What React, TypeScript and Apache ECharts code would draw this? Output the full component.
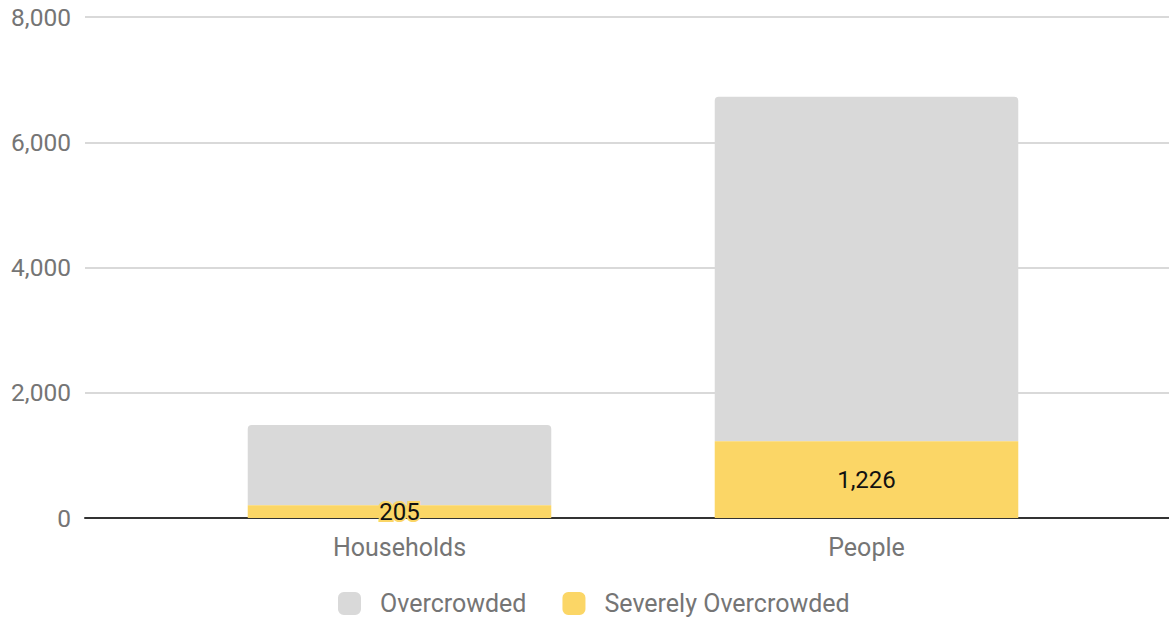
import React, { useEffect, useRef } from "react";
import * as echarts from "echarts";

const categories = ["Households", "People"];
const severelyOvercrowded = [205, 1226];
const overcrowded = [1280, 5500];
const yTicks = { min: 0, max: 8000, interval: 2000 };

export default function App() {
  const ref = useRef<HTMLDivElement>(null);
  useEffect(() => {
    const chart = echarts.init(ref.current!, null, { renderer: "svg" });
    const font = "Roboto";
    chart.setOption({
      animation: false,
      textStyle: { fontFamily: font },
      legend: {
        data: ["Overcrowded", "Severely Overcrowded"],
        top: 589,
        left: 333,
        padding: [2, 5, 2, 5],
        itemWidth: 23,
        itemHeight: 23,
        itemGap: 36,
        icon: "roundRect",
        textStyle: { fontSize: 25, color: "#757575", fontFamily: font, padding: [0, 0, 0, 14] },
      },
      grid: [
        { left: 85, right: 0, top: 17, bottom: 101 },
        { left: 166, right: 69, top: 17, bottom: 101 },
      ],
      xAxis: [
        {
          type: "category",
          gridIndex: 0,
          data: ["", ""],
          axisLine: { show: true, lineStyle: { color: "#333333", width: 2 } },
          axisTick: { show: false },
          axisLabel: { show: false },
        },
        {
          type: "category",
          gridIndex: 1,
          data: categories,
          axisLine: { show: false },
          axisTick: { show: false },
          axisLabel: { fontSize: 25, color: "#757575", margin: 17, fontFamily: font },
        },
      ],
      yAxis: [
        {
          type: "value",
          gridIndex: 0,
          ...yTicks,
          axisLine: { show: false },
          axisTick: { show: false },
          splitLine: { lineStyle: { color: "#cccccc", width: 1.5 } },
          axisLabel: {
            fontSize: 24.5,
            color: "#757575",
            margin: 14,
            fontFamily: font,
            formatter: (v: number) => v.toLocaleString("en-US"),
          },
        },
        {
          type: "value",
          gridIndex: 1,
          ...yTicks,
          show: false,
          splitLine: { show: false },
        },
      ],
      series: [
        {
          name: "Severely Overcrowded",
          type: "bar",
          xAxisIndex: 1,
          yAxisIndex: 1,
          stack: "total",
          barWidth: "65%",
          data: severelyOvercrowded,
          itemStyle: { color: "#fbd666" },
          label: {
            show: true,
            position: "inside",
            fontSize: 24,
            color: "#111111",
            fontFamily: font,
            textBorderColor: "#fbd666",
            textBorderWidth: 4,
            formatter: (p: any) => Number(p.value).toLocaleString("en-US"),
          },
          z: 3,
        },
        {
          name: "Overcrowded",
          type: "bar",
          xAxisIndex: 1,
          yAxisIndex: 1,
          stack: "total",
          barWidth: "65%",
          data: overcrowded,
          itemStyle: { color: "#d9d9d9", borderRadius: [4, 4, 0, 0] },
          z: 2,
        },
      ],
    });
    return () => chart.dispose();
  }, []);
  return (
    <div
      ref={ref}
      style={{ position: "fixed", left: 0, top: 0, width: 1169, height: 619, background: "#ffffff" }}
    />
  );
}
